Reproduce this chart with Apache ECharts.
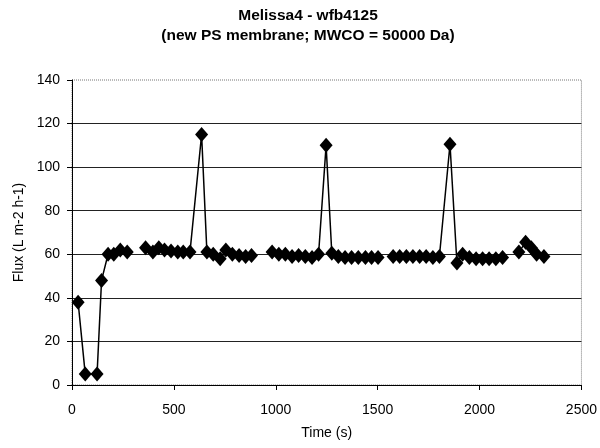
<!DOCTYPE html>
<html>
<head>
<meta charset="utf-8">
<script src="https://cdn.jsdelivr.net/npm/echarts@6/dist/echarts.min.js"></script>
<style>
  html, body { margin: 0; padding: 0; background: #fff; }
  #main { width: 600px; height: 448px; }
</style>
</head>
<body>
<div id="main"></div>
<script>
// time (s) and flux; null marks a break in the line
var timeS = [30, 65, 123, 145, 177, 205, 237, 271, null,
  361, 397, 426, 454, 486, 519, 546, 579, 636, 662, 693, 727, 755, 787, 820, 852, 881, null,
  982, 1015, 1047, 1080, 1112, 1145, 1178, 1210, 1247, 1275, 1307, 1340, 1372, 1405, 1440, 1470, 1502, null,
  1576, 1608, 1641, 1673, 1706, 1738, 1771, 1803, 1855, 1889, 1917, 1950, 1983, 2015, 2047, 2080, 2113, null,
  2193, 2226, 2254, 2280, 2316]
var fluxL = [38, 5, 5, 48, 60, 60, 62, 61, null,
  63, 61, 63, 62, 61.5, 61, 61, 61, 115, 61, 60, 58, 62, 60, 59.5, 59, 59.5, null,
  61, 60, 60, 59, 59.5, 59, 58.5, 60, 110, 60.5, 59, 58.5, 58.5, 58.5, 58.5, 58.5, 58.5, null,
  59, 59, 59, 59, 59, 59, 58.5, 59, 110.5, 56, 60, 58.5, 58, 58, 58, 58, 58.5, null,
  61, 65.5, 63, 60, 59]
var titleLines = ['Melissa4 - wfb4125', '(new PS membrane; MWCO = 50000 Da)']

var points = timeS.map(function(t, i) {
  if (t === null) return [null, '-']
  return [t, fluxL[i]]
})

var myChart = echarts.init(document.getElementById('main'))
var font = 'Liberation Sans, Arial, sans-serif'
var option = {
  animation: false,
  backgroundColor: '#fff',
  title: {
    text: titleLines.join('\n'),
    left: 303,
    textAlign: 'center',
    top: 1,
    textStyle: { fontFamily: font, fontSize: 15.5, fontWeight: 'bold', color: '#000', lineHeight: 20 }
  },
  grid: {
    left: 72, right: 18, top: 80, bottom: 63,
    show: true,
    borderColor: '#777',
    borderWidth: 1,
    borderType: 'dotted'
  },
  xAxis: {
    type: 'value',
    min: 0, max: 2500, interval: 500,
    name: 'Time (s)',
    nameLocation: 'middle',
    nameGap: 41,
    nameTextStyle: { fontFamily: font, fontSize: 14, color: '#000' },
    axisLine: { lineStyle: { color: '#000', width: 1 } },
    axisTick: { length: 5, lineStyle: { color: '#000' } },
    axisLabel: { fontFamily: font, fontSize: 14, color: '#000', margin: 18,
      formatter: function(v) { return String(v) } },
    splitLine: { show: false }
  },
  yAxis: {
    type: 'value',
    min: 0, max: 140, interval: 20,
    name: 'Flux (L m-2 h-1)',
    nameLocation: 'middle',
    nameGap: 46,
    nameTextStyle: { fontFamily: font, fontSize: 14, color: '#000' },
    axisLine: { show: true, lineStyle: { color: '#000', width: 1 } },
    axisTick: { show: true, length: 5, lineStyle: { color: '#000' } },
    axisLabel: { fontFamily: font, fontSize: 14, color: '#000', margin: 12 },
    splitLine: { show: true, showMaxLine: false, lineStyle: { color: '#222', width: 1 } }
  },
  series: [{
    type: 'line',
    data: points,
    connectNulls: false,
    symbol: 'diamond',
    symbolSize: [13, 15],
    itemStyle: { color: '#000' },
    lineStyle: { color: '#000', width: 1.5 }
  }]
}
myChart.setOption(option)
</script>
</body>
</html>
